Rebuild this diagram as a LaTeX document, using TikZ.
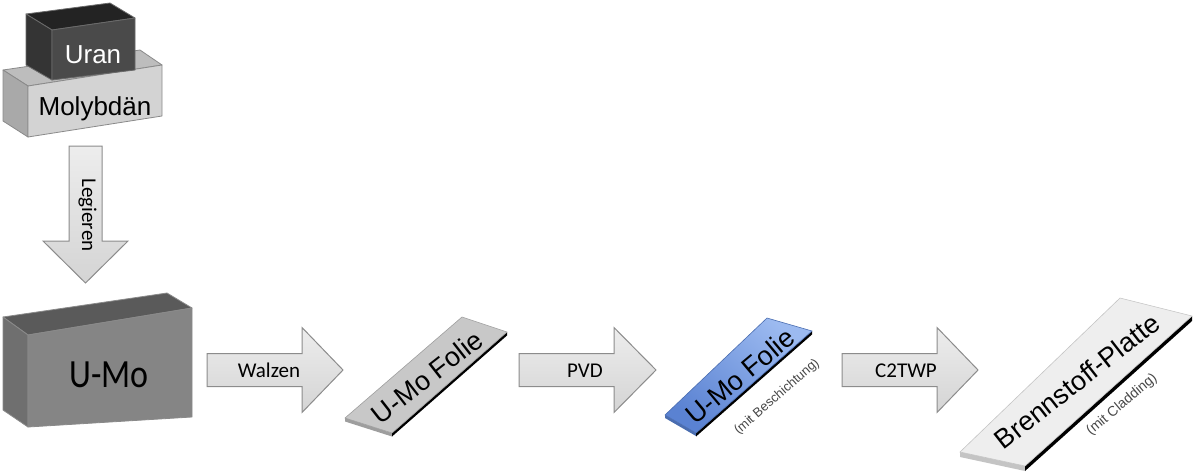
\documentclass[tikz,border=0pt]{standalone}
\usepackage{fontspec}
\setmainfont{Liberation Sans}
\newfontfamily\carlito{Carlito}
\definecolor{arrowtop}{HTML}{EDEDED}
\definecolor{arrowbot}{HTML}{D4D4D4}
\definecolor{arrowedge}{HTML}{8C8C8C}
\definecolor{boxedge}{HTML}{8A8A8A}
\definecolor{moFront}{HTML}{D3D3D3}
\definecolor{moTop}{HTML}{BDBDBD}
\definecolor{moLeft}{HTML}{A9A9A9}
\definecolor{uFront}{HTML}{4A4A4A}
\definecolor{uTop}{HTML}{232323}
\definecolor{uLeft}{HTML}{343434}
\definecolor{uEdge}{HTML}{6A6A6A}
\definecolor{umFront}{HTML}{858585}
\definecolor{umTop}{HTML}{5A5A5A}
\definecolor{umLeft}{HTML}{6F6F6F}
\definecolor{foilGray}{HTML}{C8C8C8}
\definecolor{foilSide}{HTML}{9E9E9E}
\definecolor{blueA}{HTML}{9CBAF0}
\definecolor{blueB}{HTML}{5A82D2}
\definecolor{blueEdge}{HTML}{4A6DB0}
\definecolor{plateFill}{HTML}{EEEEEE}
\definecolor{plateSide}{HTML}{C4C4C4}
\definecolor{subText}{HTML}{474747}
\begin{document}
\begin{tikzpicture}[x=1pt,y=-1pt,
  face/.style={draw=#1, line width=0.8pt, line join=round},
  blockarrow/.style={draw=arrowedge, line width=1pt, top color=arrowtop, bottom color=arrowbot, line join=miter},
  arrowlbl/.style={inner sep=0pt, anchor=base, font=\carlito\fontsize{21}{24}\selectfont},
  foillbl/.style={inner sep=0pt, font=\fontsize{27}{30}\selectfont},
  sublbl/.style={inner sep=0pt, text=subText, font=\fontsize{13}{15}\selectfont},
]
\useasboundingbox (0,0) rectangle (1200,472);

% ---------- Molybdaen block ----------
\coordinate (mA) at (3,70);
\coordinate (mB) at (28,86);
\coordinate (mC) at (162,65);
\coordinate (mD) at (140,50);
\coordinate (mE) at (28,137);
\coordinate (mF) at (162,116);
\coordinate (mG) at (3,121);
\filldraw[face=boxedge, fill=moTop] (mA) -- (mD) -- (mC) -- (mB) -- cycle;
\filldraw[face=boxedge, fill=moLeft] (mA) -- (mB) -- (mE) -- (mG) -- cycle;
\filldraw[face=boxedge, fill=moFront] (mB) -- (mC) -- (mF) -- (mE) -- cycle;
\node[inner sep=0pt, anchor=base, font=\fontsize{26}{30}\selectfont] (moly) at (95,115) {Molybdän};

% ---------- Uran block ----------
\coordinate (uA) at (26,14);
\coordinate (uD) at (110,3);
\coordinate (uC) at (135,18);
\coordinate (uB) at (52,30);
\coordinate (uE) at (52,80);
\coordinate (uF) at (135,70);
\coordinate (uG) at (26,65);
\filldraw[face=uEdge, fill=uTop] (uA) -- (uD) -- (uC) -- (uB) -- cycle;
\filldraw[face=uEdge, fill=uLeft] (uA) -- (uB) -- (uE) -- (uG) -- cycle;
\filldraw[face=uEdge, fill=uFront] (uB) -- (uC) -- (uF) -- (uE) -- cycle;
\node[inner sep=0pt, anchor=base, text=white, font=\fontsize{26}{30}\selectfont] (uran) at (93,63) {Uran};

% ---------- Legieren arrow ----------
\draw[blockarrow] (69,146) -- (102,146) -- (102,241) -- (128,241) -- (85.5,283)
  -- (43,241) -- (69,241) -- cycle;
\node[arrowlbl, rotate=-90, font=\carlito\fontsize{21}{24}\selectfont] (legieren) at (82,215) {Legieren};

% ---------- U-Mo block ----------
\coordinate (bA) at (3,317);
\coordinate (bD) at (167,293);
\coordinate (bC) at (192,308);
\coordinate (bB) at (28,335);
\coordinate (bE) at (28,427);
\coordinate (bF) at (192,417);
\coordinate (bG) at (3,410);
\filldraw[face=boxedge, fill=umTop] (bA) -- (bD) -- (bC) -- (bB) -- cycle;
\filldraw[face=boxedge, fill=umLeft] (bA) -- (bB) -- (bE) -- (bG) -- cycle;
\filldraw[face=boxedge, fill=umFront] (bB) -- (bC) -- (bF) -- (bE) -- cycle;
\node[inner sep=0pt, anchor=base, font=\carlito\fontsize{40}{44}\selectfont] (umo) at (109,387) {\scalebox{0.85}[1]{U-Mo}};

% ---------- horizontal block arrows ----------
\draw[blockarrow] (207,353.5) -- (302,353.5) -- (302,327.5) -- (343,370) -- (302,412.5) -- (302,386.5) -- (207,386.5) -- cycle;
\node[arrowlbl] (walzen) at (269,377) {Walzen};

\draw[blockarrow] (519,353.5) -- (614,353.5) -- (614,327.5) -- (656,370) -- (614,412.5) -- (614,386.5) -- (519,386.5) -- cycle;
\node[arrowlbl] (pvd) at (585,377) {PVD};

\draw[blockarrow] (842,353.5) -- (937,353.5) -- (937,327.5) -- (978,370) -- (937,412.5) -- (937,386.5) -- (842,386.5) -- cycle;
\node[arrowlbl] (c2twp) at (906,377) {C2TWP};

% ---------- U-Mo Folie ----------
\coordinate (fA) at (345,418);
\coordinate (fB) at (462,317);
\coordinate (fC) at (507,332);
\coordinate (fD) at (392,433);
\fill[foilSide] (fA) -- (fD) -- ([yshift=-3.5]fD) -- ([yshift=-3.5]fA) -- cycle;
\fill[black] (fD) -- (fC) -- ([yshift=-3.5]fC) -- ([yshift=-3.5]fD) -- cycle;
\filldraw[draw=foilSide, line width=0.6pt, fill=foilGray] (fA) -- (fB) -- (fC) -- (fD) -- cycle;
\node[foillbl, rotate=38] (folie1) at (427,377) {U-Mo Folie};

% ---------- U-Mo Folie (coated) ----------
\coordinate (gA) at (665,415);
\coordinate (gB) at (767,318);
\coordinate (gC) at (812,331);
\coordinate (gD) at (696,433);
\fill[blueEdge] (gA) -- (gD) -- ([yshift=-3]gD) -- ([yshift=-3]gA) -- cycle;
\fill[black] (gD) -- (gC) -- ([yshift=-3.5]gC) -- ([yshift=-3.5]gD) -- cycle;
\shade[top color=blueA, bottom color=blueB, shading angle=-40] (gA) -- (gB) -- (gC) -- (gD) -- cycle;
\draw[blueEdge, line width=0.6pt] (gA) -- (gB) -- (gC) -- (gD) -- cycle;
\node[foillbl, rotate=40] (folie2) at (740,376) {U-Mo Folie};
\node[sublbl, rotate=41] (besch) at (777,397) {(mit Beschichtung)};

% ---------- Brennstoff-Platte ----------
\coordinate (pA) at (960,452);
\coordinate (pB) at (1120,298);
\coordinate (pC) at (1192,316);
\coordinate (pD) at (1025,466);
\fill[plateSide] (pA) -- (pD) -- ([yshift=-5]pD) -- ([yshift=-5]pA) -- cycle;
\fill[black] (pD) -- (pC) -- ([yshift=-5]pC) -- ([yshift=-5]pD) -- cycle;
\filldraw[draw=plateSide, line width=0.6pt, fill=plateFill] (pA) -- (pB) -- (pC) -- (pD) -- cycle;
\node[foillbl, rotate=38] (platte) at (1077,381) {Brennstoff-Platte};
\node[sublbl, rotate=40, font=\fontsize{14}{16}\selectfont] (clad) at (1122,405) {(mit Cladding)};
\end{tikzpicture}
\end{document}
